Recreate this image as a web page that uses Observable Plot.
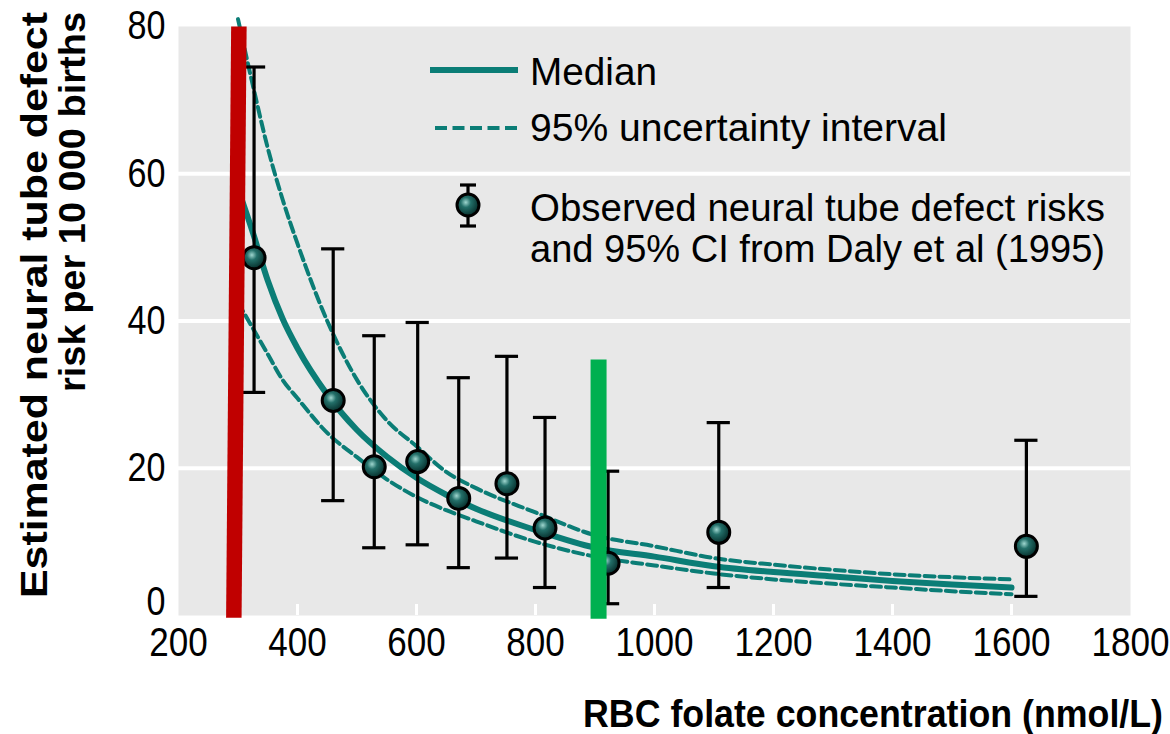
<!DOCTYPE html>
<html>
<head>
<meta charset="utf-8">
<script src="https://cdn.jsdelivr.net/npm/d3@7"></script>
<script src="https://cdn.jsdelivr.net/npm/@observablehq/plot@0.6"></script>
<style>
  body { margin: 0; background: white; }
</style>
</head>
<body>
<div id="chart"></div>
<script>
// ---- Data ----
const folate = [300, 325, 350, 375, 400, 450, 500, 550, 600, 650, 700, 800, 900, 1000, 1100, 1200, 1300, 1400, 1500, 1600];
const medianRisk = [58, 52, 45.5, 40.3, 36.3, 30.0, 25.2, 21.6, 18.7, 16.4, 14.5, 11.6, 9.2, 8.0, 6.7, 5.9, 5.3, 4.7, 4.2, 3.8];
const upperRisk  = [81, 72, 63.5, 56.5, 50.5, 40, 32, 26.5, 23, 19.5, 17.3, 14.0, 10.9, 9.4, 7.8, 6.9, 6.2, 5.6, 5.2, 4.9];
const lowerRisk  = [42.5, 39, 35.5, 32, 29.5, 24.8, 21.5, 18.5, 16.1, 14.3, 12.8, 10.0, 8.0, 6.8, 5.7, 4.9, 4.3, 3.8, 3.3, 2.9];

const obsFolate = [327, 460, 529, 602, 671, 752, 816, 922, 1108, 1625];
const obsRisk   = [48.6, 29.2, 20.2, 20.9, 15.9, 17.9, 11.9, 7.1, 11.3, 9.4];
const obsLow    = [30.3, 15.6, 9.2, 9.6, 6.5, 7.8, 3.8, 1.6, 3.8, 2.6];
const obsHigh   = [74.5, 49.8, 38.0, 39.8, 32.3, 35.2, 26.9, 19.6, 26.2, 23.8];

const xTicks = [200, 400, 600, 800, 1000, 1200, 1400, 1600, 1800];
const yTicks = [0, 20, 40, 60, 80];
const gridValues = [20, 40, 60];

const redBar = [{xTop: 301.5, xBottom: 293, yTop: 80, yBottom: -0.3}];
const greenBar = [{x: 906, y1: -0.5, y2: 34.7}];

const teal = "#0b7d76";

// ---- Build tables ----
const curve = folate.map((f, i) => ({f, med: medianRisk[i], up: upperRisk[i], lo: lowerRisk[i]}));
const obs = obsFolate.map((f, i) => ({f, r: obsRisk[i], lo: obsLow[i], hi: obsHigh[i]}));

const capHalf = 19.5; // in data units (~11.5 px)

const plot = Plot.plot({
  width: 1170,
  height: 734,
  marginTop: 26,
  marginRight: 40,
  marginBottom: 119,
  marginLeft: 178,
  x: {domain: [200, 1800]},
  y: {domain: [0, 80]},
  style: {fontFamily: "'Liberation Sans', sans-serif", background: "white", color: "black"},
  marks: [
    Plot.frame({fill: "#e8e8e8", stroke: null}),
    Plot.gridY(gridValues, {stroke: "white", strokeOpacity: 1, strokeWidth: 4}),
    Plot.tickX(xTicks.slice(1, -1), {x: d => d, stroke: "white", strokeWidth: 3, insetTop: 578}),
    Plot.line(curve, {x: "f", y: "up", stroke: teal, strokeWidth: 4, strokeDasharray: "10,5", curve: "monotone-x"}),
    Plot.line(curve, {x: "f", y: "lo", stroke: teal, strokeWidth: 4, strokeDasharray: "10,5", curve: "monotone-x"}),
    Plot.line(curve, {x: "f", y: "med", stroke: teal, strokeWidth: 6, curve: "monotone-x"}),
    Plot.ruleX(obs, {x: "f", y1: "lo", y2: "hi", stroke: "black", strokeWidth: 3.2}),
    Plot.ruleY(obs, {y: "hi", x1: d => d.f - capHalf, x2: d => d.f + capHalf, stroke: "black", strokeWidth: 3.2}),
    Plot.ruleY(obs, {y: "lo", x1: d => d.f - capHalf, x2: d => d.f + capHalf, stroke: "black", strokeWidth: 3.2}),
    Plot.dot(obs, {x: "f", y: "r", r: 11, fill: "url(#ball)", stroke: "black", strokeWidth: 3}),
    Plot.link(redBar, {x1: "xTop", y1: "yTop", x2: "xBottom", y2: "yBottom", stroke: "#c00000", strokeWidth: 15.5}),
    Plot.ruleX(greenBar, {x: "x", y1: "y1", y2: "y2", stroke: "#00b050", strokeWidth: 16}),
    Plot.axisX({ticks: xTicks, tickSize: 0, tickPadding: 12, fontSize: 40, label: null, tickFormat: d => String(d)}),
    Plot.axisY({ticks: yTicks, tickSize: 0, tickPadding: 13, fontSize: 40, label: null})
  ]
});

document.getElementById("chart").appendChild(plot);

const svg = d3.select(plot);
const ff = "'Liberation Sans', sans-serif";

// condense the tick labels to match the narrow face of the reference
svg.selectAll('g[aria-label="x-axis tick label"] text').each(function() {
  const s = this.textContent;
  d3.select(this).attr("textLength", s.length * 19.5).attr("lengthAdjust", "spacingAndGlyphs");
});
svg.selectAll('g[aria-label="y-axis tick label"] text').each(function() {
  const s = this.textContent;
  d3.select(this).attr("textLength", s.length * 19).attr("lengthAdjust", "spacingAndGlyphs");
  if (s === "0") d3.select(this).attr("dy", "0").attr("y", -1);
});

// gradient for the spheres
const defs = svg.insert("defs", ":first-child");
const grad = defs.append("radialGradient").attr("id", "ball").attr("cx", "40%").attr("cy", "38%").attr("r", "65%");
grad.append("stop").attr("offset", "0%").attr("stop-color", "#9fd6cf");
grad.append("stop").attr("offset", "35%").attr("stop-color", "#236f69");
grad.append("stop").attr("offset", "100%").attr("stop-color", "#042a27");

// axis titles
svg.append("text").attr("transform", "translate(47,12) rotate(-90)")
  .attr("text-anchor", "end").attr("font-family", ff).attr("font-weight", "bold").attr("font-size", 36)
  .attr("textLength", 586).attr("lengthAdjust", "spacingAndGlyphs").text("Estimated neural tube defect");
svg.append("text").attr("transform", "translate(85,12) rotate(-90)")
  .attr("text-anchor", "end").attr("font-family", ff).attr("font-weight", "bold").attr("font-size", 36)
  .attr("textLength", 380).attr("lengthAdjust", "spacingAndGlyphs").text("risk per 10 000 births");
svg.append("text").attr("x", 1163).attr("y", 727)
  .attr("text-anchor", "end").attr("font-family", ff).attr("font-weight", "bold").attr("font-size", 38)
  .attr("textLength", 580).attr("lengthAdjust", "spacingAndGlyphs").text("RBC folate concentration (nmol/L)");

// legend
const lg = svg.append("g").attr("font-family", ff).attr("font-size", 38).attr("fill", "black").attr("text-anchor", "start");
lg.append("line").attr("x1", 430).attr("x2", 518).attr("y1", 70).attr("y2", 70).attr("stroke", teal).attr("stroke-width", 6);
lg.append("text").attr("x", 530).attr("y", 85).attr("textLength", 127).attr("lengthAdjust", "spacingAndGlyphs").text("Median");
lg.append("line").attr("x1", 435).attr("x2", 518).attr("y1", 128).attr("y2", 128).attr("stroke", teal).attr("stroke-width", 4).attr("stroke-dasharray", "12,5.5");
lg.append("text").attr("x", 530).attr("y", 141).attr("textLength", 417).attr("lengthAdjust", "spacingAndGlyphs").text("95% uncertainty interval");
lg.append("line").attr("x1", 468).attr("x2", 468).attr("y1", 185).attr("y2", 226).attr("stroke", "black").attr("stroke-width", 3.2);
lg.append("line").attr("x1", 460).attr("x2", 476).attr("y1", 185).attr("y2", 185).attr("stroke", "black").attr("stroke-width", 3.2);
lg.append("line").attr("x1", 460).attr("x2", 476).attr("y1", 226).attr("y2", 226).attr("stroke", "black").attr("stroke-width", 3.2);
lg.append("circle").attr("cx", 468).attr("cy", 205).attr("r", 11).attr("fill", "url(#ball)").attr("stroke", "black").attr("stroke-width", 3);
lg.append("text").attr("x", 530).attr("y", 221).attr("textLength", 575).attr("lengthAdjust", "spacingAndGlyphs").text("Observed neural tube defect risks");
lg.append("text").attr("x", 530).attr("y", 262).attr("textLength", 575).attr("lengthAdjust", "spacingAndGlyphs").text("and 95% CI from Daly et al (1995)");
</script>
</body>
</html>
